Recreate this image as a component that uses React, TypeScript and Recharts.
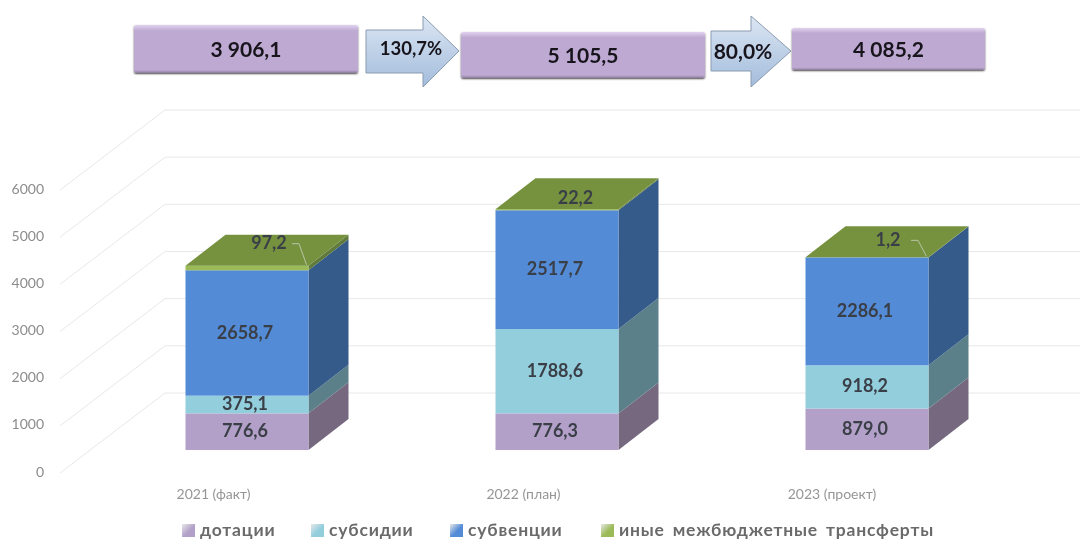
import { BarChart, Bar, XAxis, YAxis, CartesianGrid, Legend, LabelList } from 'recharts';

const years = ['2021 (факт)', '2022 (план)', '2023 (проект)'];
const dotacii = [776.6, 776.3, 879.0];
const subsidii = [375.1, 1788.6, 918.2];
const subvencii = [2658.7, 2517.7, 2286.1];
const inye = [97.2, 22.2, 1.2];
const yTicks = [0, 1000, 2000, 3000, 4000, 5000, 6000];
const totals = ['3 906,1', '5 105,5', '4 085,2'];
const growth = ['130,7%', '80,0%'];

const chartData = years.map((year, i) => ({
  year,
  dotacii: dotacii[i],
  subsidii: subsidii[i],
  subvencii: subvencii[i],
  inye: inye[i],
}));

// fake 3d depth of the bars and of the back wall
const DX = 40;
const DY = -31;
const FONT = 'Lato, "Open Sans", sans-serif';

const boxes = [
  { left: 134, top: 25, width: 224, height: 48 },
  { left: 461, top: 32, width: 244, height: 46 },
  { left: 792, top: 28, width: 193, height: 42 },
];
const arrows = [
  { x: 366, w: 93, headAt: 423, shaftTop: 30, shaftBottom: 73, textX: 411, textY: 50, size: 18.5 },
  { x: 711, w: 80, headAt: 751, shaftTop: 31, shaftBottom: 71, textX: 743, textY: 54, size: 21 },
];
const xLabelShift = [-33, -33, -34.5];
const topLabelShift = [
  { dx: 22, dy: -22 },
  { dx: 18.5, dy: -11 },
  { dx: 21, dy: -17 },
];
const legendLefts = [182, 311, 450, 601];

function Block3D(props: any) {
  const { x, y, width, height, fill, side, top } = props;
  const r = x + width;
  return (
    <g>
      <polygon
        points={`${r},${y} ${r + DX},${y + DY} ${r + DX},${y + height + DY} ${r},${y + height}`}
        fill={side}
      />
      <rect x={x} y={y} width={width} height={height} fill={fill} />
      {top && (
        <polygon
          points={`${x},${y} ${x + DX},${y + DY} ${r + DX},${y + DY} ${r},${y}`}
          fill={top}
        />
      )}
    </g>
  );
}

const fmt = (v: number) => v.toFixed(1).replace('.', ',');

function MidLabel(props: any) {
  const { x, y, width, height, value } = props;
  return (
    <text
      x={x + width / 2 - 2}
      y={y + height / 2 + 1}
      textAnchor="middle"
      dominantBaseline="middle"
      fontFamily={FONT}
      fontSize={18}
      fontWeight={700}
      fill="#3a3f47"
    >
      {fmt(value)}
    </text>
  );
}

function TopLabel(props: any) {
  const { x, y, width, value, index } = props;
  const s = topLabelShift[index];
  const cx = x + width / 2 + s.dx;
  const cy = y + s.dy;
  return (
    <g>
      {index !== 1 && (
        <polyline
          points={`${cx + 23},${cy} ${cx + 30},${cy} ${x + width - 2},${y - 1}`}
          fill="none"
          stroke="#b9c4a4"
          strokeWidth={1}
        />
      )}
      <text
        x={cx}
        y={cy + 1}
        textAnchor="middle"
        dominantBaseline="middle"
        fontFamily={FONT}
        fontSize={18}
        fontWeight={700}
        fill="#3a3f47"
      >
        {fmt(value)}
      </text>
    </g>
  );
}

function YTick(props: any) {
  const { y, payload } = props;
  return (
    <text x={44} y={y + 23} textAnchor="end" dominantBaseline="middle" fontFamily={FONT} fontSize={14} fill="#8c8c8c">
      {payload.value}
    </text>
  );
}

function XTick(props: any) {
  const { x, payload, index } = props;
  return (
    <text x={x + xLabelShift[index]} y={495} textAnchor="middle" dominantBaseline="middle" fontFamily={FONT} fontSize={14} fill="#969696">
      {payload.value}
    </text>
  );
}

function WallLine(props: any) {
  const { y1 } = props;
  return (
    <polyline
      points={`60,${y1 + 23} 165,${y1 - 57} 1080,${y1 - 57}`}
      fill="none"
      stroke="#e8e8e8"
      strokeWidth={1}
    />
  );
}

function ChartLegend(props: any) {
  const items = props.payload ?? [];
  return (
    <div style={{ position: 'relative', height: 0 }}>
      {items.map((entry: any, i: number) => (
        <div
          key={entry.value}
          style={{
            position: 'absolute',
            left: legendLefts[i],
            top: 0,
            display: 'flex',
            alignItems: 'center',
            whiteSpace: 'nowrap',
            fontFamily: FONT,
            fontSize: 17.5,
            lineHeight: '16px',
            fontWeight: 700,
            letterSpacing: 0.8,
            wordSpacing: 3,
            color: '#6a6a6a',
          }}
        >
          <span
            style={{
              width: 13,
              height: 13,
              marginRight: 5,
              background: `linear-gradient(135deg, #e8e8e8 0%, ${entry.color} 55%, ${entry.color} 100%)`,
            }}
          />
          {entry.value}
        </div>
      ))}
    </div>
  );
}

function TotalBox({ box, text }: { box: (typeof boxes)[number]; text: string }) {
  return (
    <div
      style={{
        position: 'absolute',
        left: box.left,
        top: box.top,
        width: box.width,
        height: box.height,
        boxSizing: 'border-box',
        paddingBottom: 2,
        background: 'linear-gradient(#e2d2ee 0%, #bda9d2 12%, #bda9d2 94%, #8d7d9c 100%)',
        borderRadius: 2,
        boxShadow: '0 1px 2px #4a4a4a',
        display: 'flex',
        alignItems: 'center',
        justifyContent: 'center',
        fontFamily: FONT,
        fontSize: 21,
        fontWeight: 700,
        color: '#17141c',
      }}
    >
      {text}
    </div>
  );
}

function Arrows() {
  return (
    <svg width={1080} height={100} style={{ position: 'absolute', left: 0, top: 0 }}>
      <defs>
        <linearGradient id="arrowFill" x1="0" y1="0" x2="0" y2="1">
          <stop offset="0%" stopColor="#dbe6f3" />
          <stop offset="100%" stopColor="#a3bcdc" />
        </linearGradient>
      </defs>
      {arrows.map((a, i) => (
        <g key={growth[i]}>
          <polygon
            points={`${a.x},${a.shaftTop} ${a.headAt},${a.shaftTop} ${a.headAt},16 ${a.x + a.w},51 ${a.headAt},87 ${a.headAt},${a.shaftBottom} ${a.x},${a.shaftBottom}`}
            fill="url(#arrowFill)"
            stroke="#8b9bb0"
            strokeWidth={1}
          />
          <text
            x={a.textX}
            y={a.textY}
            textAnchor="middle"
            dominantBaseline="middle"
            fontFamily={FONT}
            fontSize={a.size}
            fontWeight={700}
            fill="#17141c"
          >
            {growth[i]}
          </text>
        </g>
      ))}
    </svg>
  );
}

export default function App() {
  return (
    <div
      style={{
        position: 'absolute',
        left: 0,
        top: 0,
        width: 1080,
        height: 541,
        overflow: 'hidden',
        background: '#fff',
        filter: 'blur(0.6px)',
      }}
    >
      <BarChart
        width={1080}
        height={541}
        data={chartData}
        barSize={123}
        margin={{ top: 167, right: 58.5, bottom: 61, left: 31.5 }}
      >
        <CartesianGrid vertical={false} horizontal={(p: any) => <WallLine key={p.key ?? p.y1} {...p} />} />
        <XAxis dataKey="year" axisLine={false} tickLine={false} tick={<XTick />} height={30} interval={0} />
        <YAxis width={60} domain={[0, 6000]} ticks={yTicks} axisLine={false} tickLine={false} tick={<YTick />} interval={0} />
        <Bar
          dataKey="dotacii"
          name="дотации"
          stackId="a"
          fill="#b3a0c9"
          isAnimationActive={false}
          shape={(p: any) => <Block3D {...p} side="#75687f" />}
        >
          <LabelList dataKey="dotacii" content={<MidLabel />} />
        </Bar>
        <Bar
          dataKey="subsidii"
          name="субсидии"
          stackId="a"
          fill="#93cedd"
          isAnimationActive={false}
          shape={(p: any) => <Block3D {...p} side="#5c8089" />}
        >
          <LabelList dataKey="subsidii" content={<MidLabel />} />
        </Bar>
        <Bar
          dataKey="subvencii"
          name="субвенции"
          stackId="a"
          fill="#538bd6"
          isAnimationActive={false}
          shape={(p: any) => <Block3D {...p} side="#355b8a" />}
        >
          <LabelList dataKey="subvencii" content={<MidLabel />} />
        </Bar>
        <Bar
          dataKey="inye"
          name="иные межбюджетные трансферты"
          stackId="a"
          fill="#9bbb59"
          isAnimationActive={false}
          shape={(p: any) => <Block3D {...p} side="#5f7a3a" top="#76923f" />}
        >
          <LabelList dataKey="inye" content={<TopLabel />} />
        </Bar>
        <Legend
          content={<ChartLegend />}
          itemSorter={null}
          wrapperStyle={{ position: 'absolute', left: 0, top: 522, width: 1080, height: 0 }}
        />
      </BarChart>
      <Arrows />
      {boxes.map((box, i) => (
        <TotalBox key={totals[i]} box={box} text={totals[i]} />
      ))}
    </div>
  );
}
